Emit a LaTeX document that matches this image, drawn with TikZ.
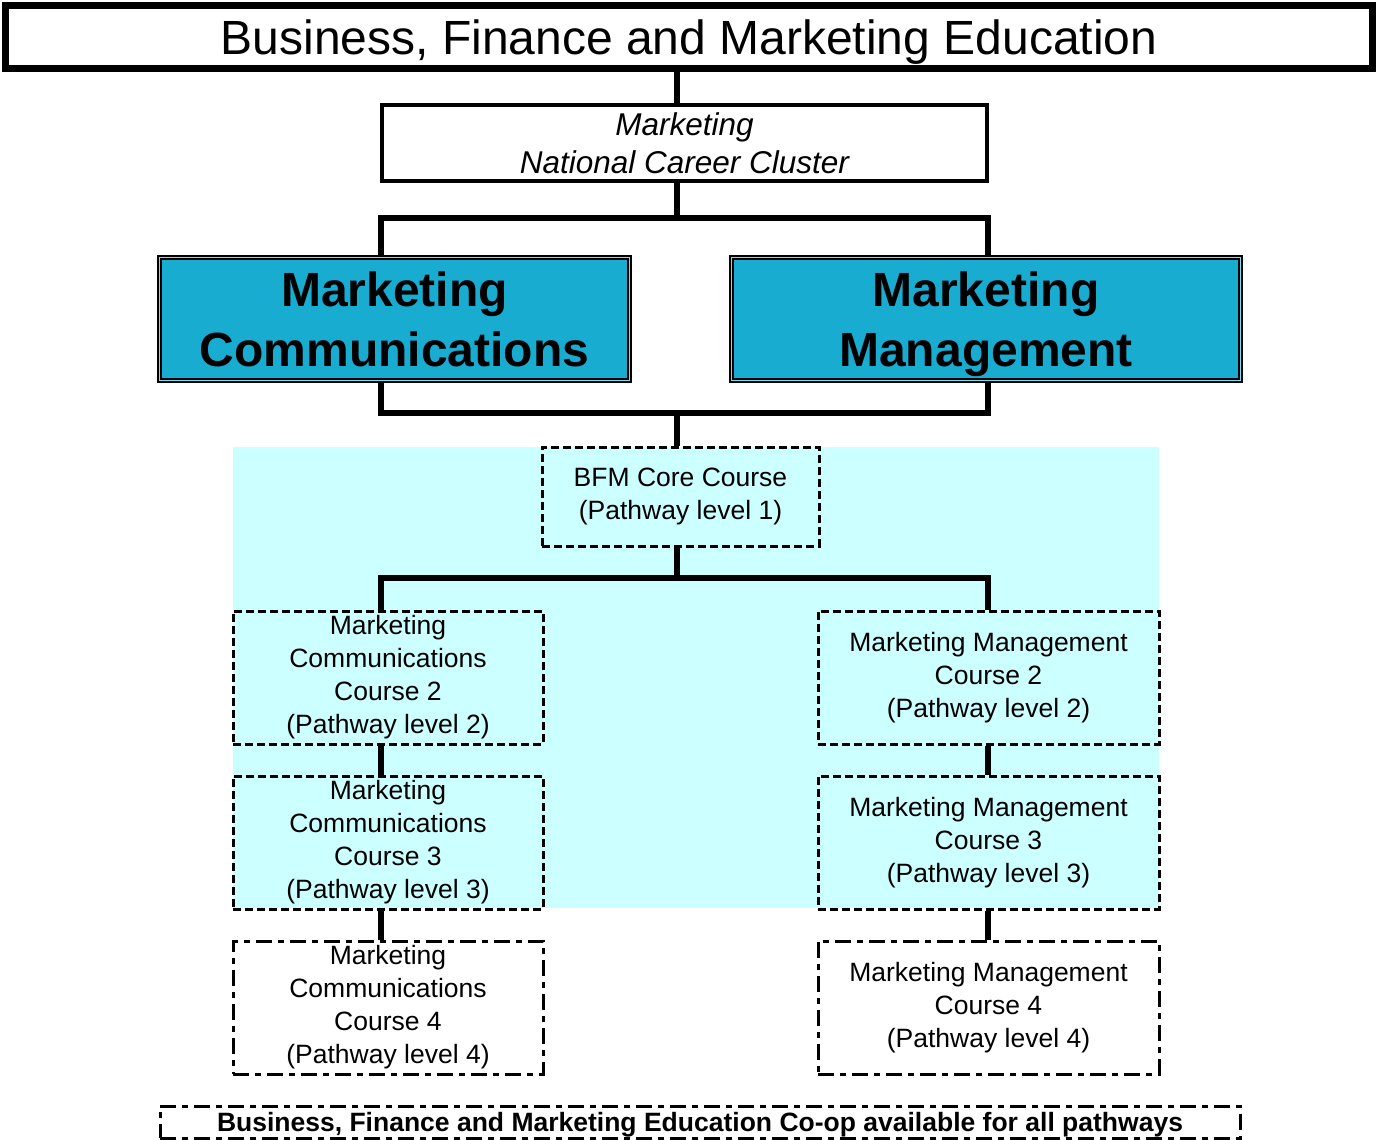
\documentclass[tikz,border=0pt]{standalone}
\usepackage{fontspec}
\setmainfont{Liberation Sans}
\definecolor{bgcyan}{RGB}{204,255,255}
\definecolor{tealfill}{RGB}{24,172,208}
\definecolor{tealedge}{RGB}{110,225,250}
\begin{document}
\begin{tikzpicture}[x=1pt,y=-1pt,
  conn/.style={line width=6pt},
  titlebox/.style={draw, line width=7pt, inner sep=0pt, text depth=0pt, font=\fontsize{48}{56}\selectfont},
  clusterbox/.style={draw, line width=4pt, inner sep=0pt, align=center, font=\itshape\fontsize{31.5}{38}\selectfont},
  pathbox/.style={draw, fill=tealfill, line width=3.5pt, inner sep=0pt, align=center, text depth=0pt, font=\bfseries\fontsize{48}{60}\selectfont},
  coursebox/.style={draw, line width=3pt, dash pattern=on 8pt off 4pt, inner sep=0pt, align=center, font=\fontsize{26.5}{33}\selectfont},
  upperbox/.style={draw, line width=3pt, dash pattern=on 16pt off 6pt on 6pt off 6pt, inner sep=0pt, align=center, font=\fontsize{26.5}{33}\selectfont},
  coopbox/.style={draw, line width=3pt, dash pattern=on 16pt off 6pt on 6pt off 6pt, inner sep=0pt, align=center, text depth=0pt, font=\bfseries\fontsize{26.5}{30}\selectfont}
]
\useasboundingbox (0,0) rectangle (1376,1140);
\fill[white] (0,0) rectangle (1376,1140);
\fill[bgcyan] (233,447) rectangle (1159,908);

\coordinate (spine) at (677,0);
\coordinate (colL) at (381,0);
\coordinate (colR) at (988,0);
\coordinate (j1) at (677,218);
\coordinate (j2) at (677,413);
\coordinate (j3) at (677,578);

\node[titlebox, minimum width=1367pt, minimum height=63pt] (top) at (689,37) {Business, Finance and Marketing Education};
\node[clusterbox, minimum width=605pt, minimum height=76pt] (cluster) at (684.5,143) {Marketing\\National Career Cluster};

\node[pathbox, minimum width=472pt, minimum height=125pt] (mc) at (394.5,319) {Marketing\\Communications};
\node[pathbox, minimum width=511pt, minimum height=125pt] (mm) at (986,319) {Marketing\\Management};
\foreach \n in {mc,mm}{
  \draw[tealedge, line width=1.4pt] ([shift={(2.5,2.5)}]\n.north west) rectangle ([shift={(-2.5,-2.5)}]\n.south east);
  \draw[black, line width=2.2pt] ([shift={(4.6,4.6)}]\n.north west) rectangle ([shift={(-4.6,-4.6)}]\n.south east);
}

\node[coursebox, minimum width=277pt, minimum height=99pt] (core) at (680.5,496.5) {BFM Core Course\\(Pathway level 1)};

\node[coursebox, minimum width=310pt, minimum height=133pt] (mc2) at (388,677.5) {Marketing\\Communications\\Course 2\\(Pathway level 2)};
\node[coursebox, minimum width=341pt, minimum height=133pt] (mm2) at (988.5,677.5) {Marketing Management\\Course 2\\(Pathway level 2)};
\node[coursebox, minimum width=310pt, minimum height=133pt] (mc3) at (388,842.5) {Marketing\\Communications\\Course 3\\(Pathway level 3)};
\node[coursebox, minimum width=341pt, minimum height=133pt] (mm3) at (988.5,842.5) {Marketing Management\\Course 3\\(Pathway level 3)};
\node[upperbox, minimum width=310pt, minimum height=133pt] (mc4) at (388,1007.5) {Marketing\\Communications\\Course 4\\(Pathway level 4)};
\node[upperbox, minimum width=341pt, minimum height=133pt] (mm4) at (988.5,1007.5) {Marketing Management\\Course 4\\(Pathway level 4)};

\node[coopbox, minimum width=1080pt, minimum height=32pt] (coop) at (700,1122) {Business, Finance and Marketing Education Co-op available for all pathways};

% connectors
\draw[conn] (top.south -| spine) -- (cluster.north -| spine);
\draw[conn] (cluster.south -| spine) -- (j1);
\draw[conn] (mc.north -| colL) |- (j1) -| (mm.north -| colR);
\draw[conn] (mc.south -| colL) |- (j2) -| (mm.south -| colR);
\draw[conn] (j2) -- (core.north -| spine);
\draw[conn] (core.south -| spine) -- (j3);
\draw[conn] (mc2.north -| colL) |- (j3) -| (mm2.north -| colR);
\draw[conn] (mc2.south -| colL) -- (mc3.north -| colL);
\draw[conn] (mc3.south -| colL) -- (mc4.north -| colL);
\draw[conn] (mm2.south -| colR) -- (mm3.north -| colR);
\draw[conn] (mm3.south -| colR) -- (mm4.north -| colR);
\end{tikzpicture}
\end{document}
